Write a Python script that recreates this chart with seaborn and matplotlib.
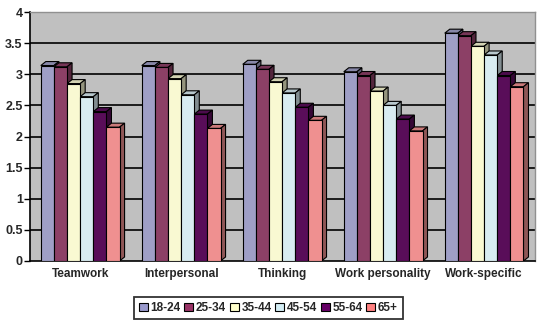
import matplotlib
matplotlib.use("Agg")
import matplotlib.pyplot as plt
import matplotlib.colors as mcolors
from matplotlib.patches import Polygon, Patch
import seaborn as sns
import pandas as pd
import numpy as np

categories = ["Teamwork", "Interpersonal", "Thinking", "Work personality", "Work-specific"]
age_groups = ["18-24", "25-34", "35-44", "45-54", "55-64", "65+"]
v_18_24 = [3.14, 3.14, 3.16, 3.04, 3.66]
v_25_34 = [3.12, 3.11, 3.08, 2.98, 3.62]
v_35_44 = [2.85, 2.93, 2.88, 2.73, 3.45]
v_45_54 = [2.64, 2.67, 2.70, 2.50, 3.31]
v_55_64 = [2.40, 2.36, 2.47, 2.28, 2.98]
v_65 = [2.15, 2.13, 2.26, 2.09, 2.80]
series = [v_18_24, v_25_34, v_35_44, v_45_54, v_55_64, v_65]
colors = ["#9999CC", "#993366", "#FFFFCC", "#D4EEF5", "#660066", "#FF8080"]
y_ticks = [0, 0.5, 1, 1.5, 2, 2.5, 3, 3.5, 4]
y_tick_labels = ["0", "0.5", "1", "1.5", "2", "2.5", "3", "3.5", "4"]

rows = []
for g, vals in zip(age_groups, series):
    for c, v in zip(categories, vals):
        rows.append({"category": c, "age": g, "value": v})
df = pd.DataFrame(rows)

sns.set_theme(style="white")
plt.rcParams["font.family"] = ["Liberation Sans", "DejaVu Sans"]
plt.rcParams["font.weight"] = "bold"

fig = plt.figure(figsize=(5.5, 3.25), dpi=100)
ax = fig.add_axes([0.054, 0.197, 0.918, 0.766])
ax.set_facecolor("#C0C0C0")

sns.barplot(data=df, x="category", y="value", hue="age", order=categories,
            hue_order=age_groups, palette=colors, edgecolor="black",
            linewidth=0.8, width=0.78, ax=ax, legend=False, zorder=3)

ax.set_xlim(-0.5, 4.5)
ax.set_ylim(0, 4)
ax.set_yticks(y_ticks)
ax.set_yticklabels(y_tick_labels, fontsize=9, fontweight="bold")
ax.set_xticks(range(len(categories)))
ax.set_xticklabels(categories, fontsize=8.5, fontweight="bold")
ax.set_xticks(np.arange(-0.5, 5.0, 1.0), minor=True)
ax.tick_params(axis="x", which="major", length=0, pad=5)
ax.tick_params(axis="x", which="minor", length=4, width=1, color="black", direction="out")
ax.tick_params(axis="y", length=4, width=1, color="black", direction="out", left=True, pad=1)
ax.set_xlabel("")
ax.set_ylabel("")
for yv in y_ticks[1:]:
    ax.axhline(yv, color="black", lw=1.2, zorder=1)

for s in ["left", "bottom"]:
    ax.spines[s].set_color("black")
    ax.spines[s].set_linewidth(1.2)
for s in ["top", "right"]:
    ax.spines[s].set_color("#909090")
    ax.spines[s].set_linewidth(1.0)

# depth faces derived from the library's bars
fig.canvas.draw()
inv = ax.transData.inverted()
p0 = inv.transform((0, 0))
p1 = inv.transform((5, 4))
ddx, ddy = p1[0] - p0[0], p1[1] - p0[1]
for bar in list(ax.patches):
    x, w, h = bar.get_x(), bar.get_width(), bar.get_height()
    fc = np.array(mcolors.to_rgb(bar.get_facecolor()))
    top = Polygon([(x, h), (x + ddx, h + ddy), (x + w + ddx, h + ddy), (x + w, h)],
                  closed=True, facecolor=fc * 0.85, edgecolor="black", lw=0.8, zorder=2.9)
    side = Polygon([(x + w, 0), (x + w + ddx, ddy), (x + w + ddx, h + ddy), (x + w, h)],
                   closed=True, facecolor=fc * 0.6, edgecolor="black", lw=0.8, zorder=2.9)
    ax.add_patch(top)
    ax.add_patch(side)

handles = [Patch(facecolor=c, edgecolor="black", lw=0.8) for c in colors]
leg = fig.legend(handles, age_groups, loc="center", bbox_to_anchor=(0.488, 0.052),
                 ncol=6, frameon=True, fancybox=False,
                 handlelength=0.75, handleheight=0.75, handletextpad=0.25,
                 columnspacing=0.3, borderpad=0.45, prop={"weight": "bold", "size": 8.5})
leg.get_frame().set_edgecolor("black")
leg.get_frame().set_linewidth(1.3)

fig.savefig("out.png", dpi=100)
